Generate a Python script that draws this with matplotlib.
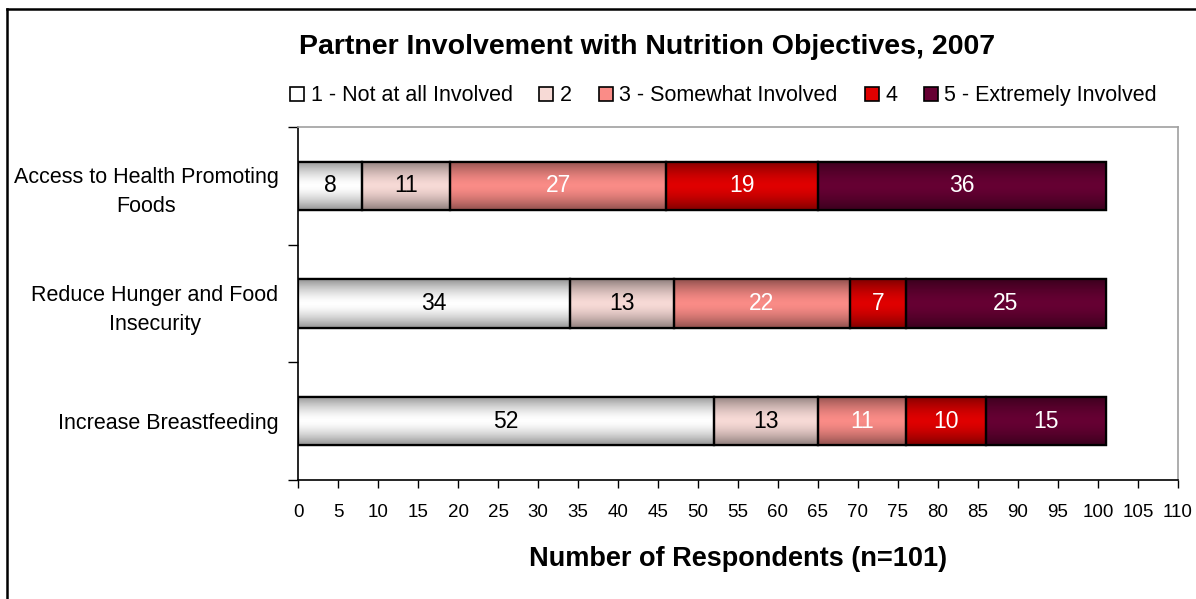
import numpy as np
import matplotlib
matplotlib.use("Agg")
import matplotlib.pyplot as plt
from matplotlib.patches import Rectangle
from matplotlib.lines import Line2D
from matplotlib.colors import to_rgb

# ---- data ----
categories = ["Access to Health Promoting\nFoods",
              "Reduce Hunger and Food\nInsecurity",
              "Increase Breastfeeding"]
series_names = ["1 - Not at all Involved", "2", "3 - Somewhat Involved",
                "4", "5 - Extremely Involved"]
s1 = [8, 34, 52]
s2 = [11, 13, 13]
s3 = [27, 22, 11]
s4 = [19, 7, 10]
s5 = [36, 25, 15]
xticks = list(range(0, 111, 5))
title = "Partner Involvement with Nutrition Objectives, 2007"
xlabel = "Number of Respondents (n=101)"

# ---- styles ----
colors = ["#FFFFFF", "#F7DAD6", "#FA8C87", "#E00000", "#660033"]
text_colors = ["black", "black", "white", "white", "white"]
narrow = ["Liberation Sans Narrow", "Liberation Sans", "DejaVu Sans"]
regular = ["Liberation Sans", "DejaVu Sans"]

fig = plt.figure(figsize=(11.96, 5.99), dpi=100)
ax = fig.add_axes([0.2492, 0.1987, 0.9849 - 0.2492, 0.7880 - 0.1987])

ypos = np.arange(len(categories))
series = [s1, s2, s3, s4, s5]
left = np.zeros(len(categories))
bar_h = 0.41

def gradient_img(color):
    rgb = np.array(to_rgb(color))
    t = np.abs(np.linspace(-1, 1, 64))
    f = 1 - 0.42 * t ** 1.6
    img = rgb[None, :] * f[:, None]
    return img[:, None, :]

for i, vals in enumerate(series):
    bc = ax.barh(ypos, vals, left=left, height=bar_h, color=colors[i],
                 edgecolor="black", linewidth=1.6, zorder=2,
                 label=series_names[i])
    for rect in bc.patches:
        x0, y0 = rect.get_x(), rect.get_y()
        w, h = rect.get_width(), rect.get_height()
        im = ax.imshow(gradient_img(colors[i]), extent=(x0, x0 + w, y0 + h, y0),
                       aspect="auto", interpolation="bilinear", zorder=2.1)
        im.set_clip_path(rect)
    ax.barh(ypos, vals, left=left, height=bar_h, facecolor="none",
            edgecolor="black", linewidth=1.6, zorder=3)
    ax.bar_label(bc, labels=[str(v) for v in vals], label_type="center",
                 color=text_colors[i], fontsize=16.5, family=narrow, zorder=4)
    left = left + np.array(vals)

ax.set_xlim(0, 110)
ax.set_ylim(len(categories) - 0.5, -0.5)
ax.set_xticks(xticks)
ax.set_xticklabels([str(v) for v in xticks], fontsize=13.5, family=narrow)
ax.tick_params(axis="x", direction="out", length=6, width=1, pad=11, colors="black")

ax.set_yticks(np.arange(-0.5, len(categories), 1.0))
ax.set_yticklabels([])
ax.set_yticks(ypos, minor=True)
ax.set_yticklabels(categories, minor=True, fontsize=15.5, family=regular,
                   ha="right", multialignment="center", linespacing=1.5)
ax.tick_params(axis="y", which="major", direction="out", length=7, width=1)
ax.tick_params(axis="y", which="minor", length=0, pad=14)

for side in ["top", "right"]:
    ax.spines[side].set_color("#A0A0A0")
    ax.spines[side].set_linewidth(1.2)
for side in ["left", "bottom"]:
    ax.spines[side].set_color("black")
    ax.spines[side].set_linewidth(1.2)

ax.set_xlabel(xlabel, fontsize=19.5, fontweight="bold", family=regular, labelpad=18)

fig.text(0.541, 0.921, title, ha="center", va="center", fontsize=20.5,
         fontweight="bold", family=regular)

handles = [Rectangle((0, 0), 1, 1, facecolor=c, edgecolor="black", linewidth=1.2)
           for c in colors]
leg = fig.legend(handles, series_names, loc="center", bbox_to_anchor=(0.605, 0.840),
                 ncol=5, frameon=False, prop={"family": narrow, "size": 15.5},
                 handlelength=0.65, handleheight=0.65, handletextpad=0.3,
                 columnspacing=1.25, borderaxespad=0)

# outer chart frame
fig.add_artist(Line2D([7 / 1196, 7 / 1196], [0, 1 - 9 / 599], transform=fig.transFigure,
                      color="black", linewidth=1.8))
fig.add_artist(Line2D([7 / 1196, 1], [1 - 9 / 599, 1 - 9 / 599], transform=fig.transFigure,
                      color="black", linewidth=1.8))

fig.savefig("out.png", dpi=100)
